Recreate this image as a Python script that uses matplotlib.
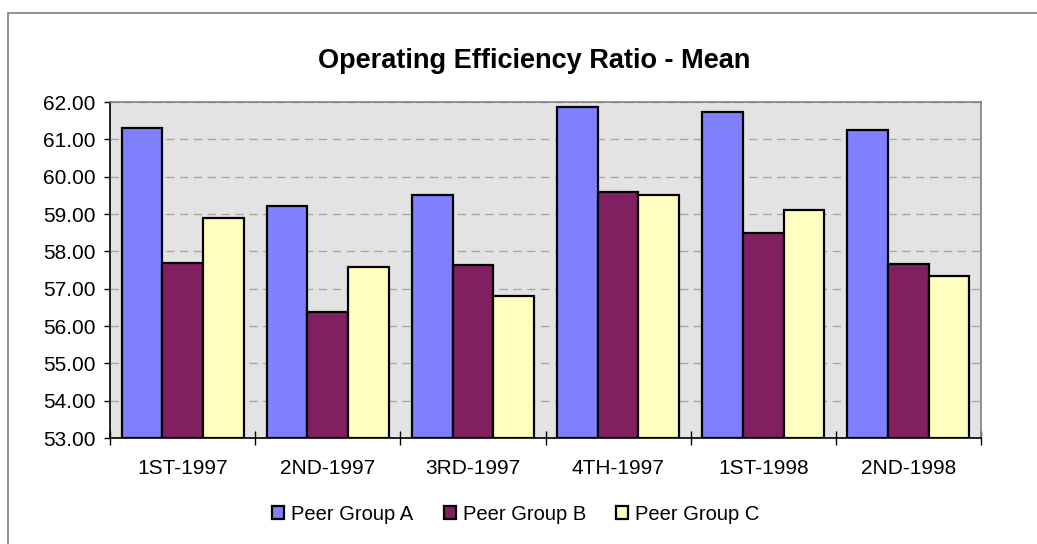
import numpy as np
import matplotlib.pyplot as plt
from matplotlib.patches import Rectangle

plt.rcParams['font.family'] = ['Liberation Sans', 'DejaVu Sans']

# data
periods = ['1ST-1997', '2ND-1997', '3RD-1997', '4TH-1997', '1ST-1998', '2ND-1998']
group_a = [61.31, 59.21, 59.50, 61.86, 61.73, 61.24]
group_b = [57.68, 56.37, 57.63, 59.58, 58.48, 57.67]
group_c = [58.89, 57.59, 56.80, 59.52, 59.11, 57.33]
series_names = ['Peer Group A', 'Peer Group B', 'Peer Group C']
colors = ['#8080FF', '#802060', '#FFFFC0']

fig = plt.figure(figsize=(10.37, 5.44), dpi=100)
ax = fig.add_axes([110 / 1037, 1 - 438 / 544, (981 - 110) / 1037, (438 - 102) / 544])

# outer chart frame (runs off the right/bottom of the picture)
fig.patches.append(Rectangle((8 / 1037, -0.1), 1.2, 1 - 13 / 544 + 0.1,
                             transform=fig.transFigure, fill=False,
                             edgecolor='#808080', linewidth=1.2))

x = np.arange(len(periods))
w = 0.28
for i, (vals, name, c) in enumerate(zip([group_a, group_b, group_c], series_names, colors)):
    ax.bar(x + (i - 1) * w, np.array(vals) - 53, width=w, bottom=53, color=c,
           edgecolor='black', linewidth=1.6, label=name, zorder=3)

ax.set_facecolor('#E3E3E3')
ax.set_xlim(-0.5, len(periods) - 0.5)
ax.set_ylim(53, 62)
ax.set_yticks(np.arange(53, 63, 1))
ax.set_yticklabels([f'{v:.2f}' for v in np.arange(53, 63, 1)])
ax.yaxis.grid(True, linestyle=(0, (6, 4)), color='#A8A8A8', linewidth=1, zorder=0)
ax.set_axisbelow(True)

# boundary ticks (major) and category labels (minor)
ax.set_xticks(np.arange(-0.5, len(periods), 1))
ax.set_xticklabels([])
ax.set_xticks(x, minor=True)
ax.set_xticklabels(periods, minor=True)
ax.tick_params(axis='x', which='major', direction='inout', length=10, width=1)
ax.tick_params(axis='x', which='minor', length=0, pad=15, labelsize=15)
ax.tick_params(axis='y', direction='out', length=4.5, width=1, pad=6, labelsize=15)

ax.spines['left'].set_color('black')
ax.spines['bottom'].set_color('black')
ax.spines['top'].set_color('#808080')
ax.spines['right'].set_color('#808080')
for s in ax.spines.values():
    s.set_linewidth(1.2)

fig.text(534 / 1037, 1 - 61 / 544, 'Operating Efficiency Ratio - Mean',
         ha='center', va='center', fontsize=19.5, fontweight='bold')

fig.legend(loc='center', bbox_to_anchor=(516 / 1037, 1 - 514 / 544), ncol=3,
           frameon=False, fontsize=14.5, handlelength=0.6, handleheight=0.6,
           handletextpad=0.35, columnspacing=1.5)

fig.savefig('out.png', dpi=100)
